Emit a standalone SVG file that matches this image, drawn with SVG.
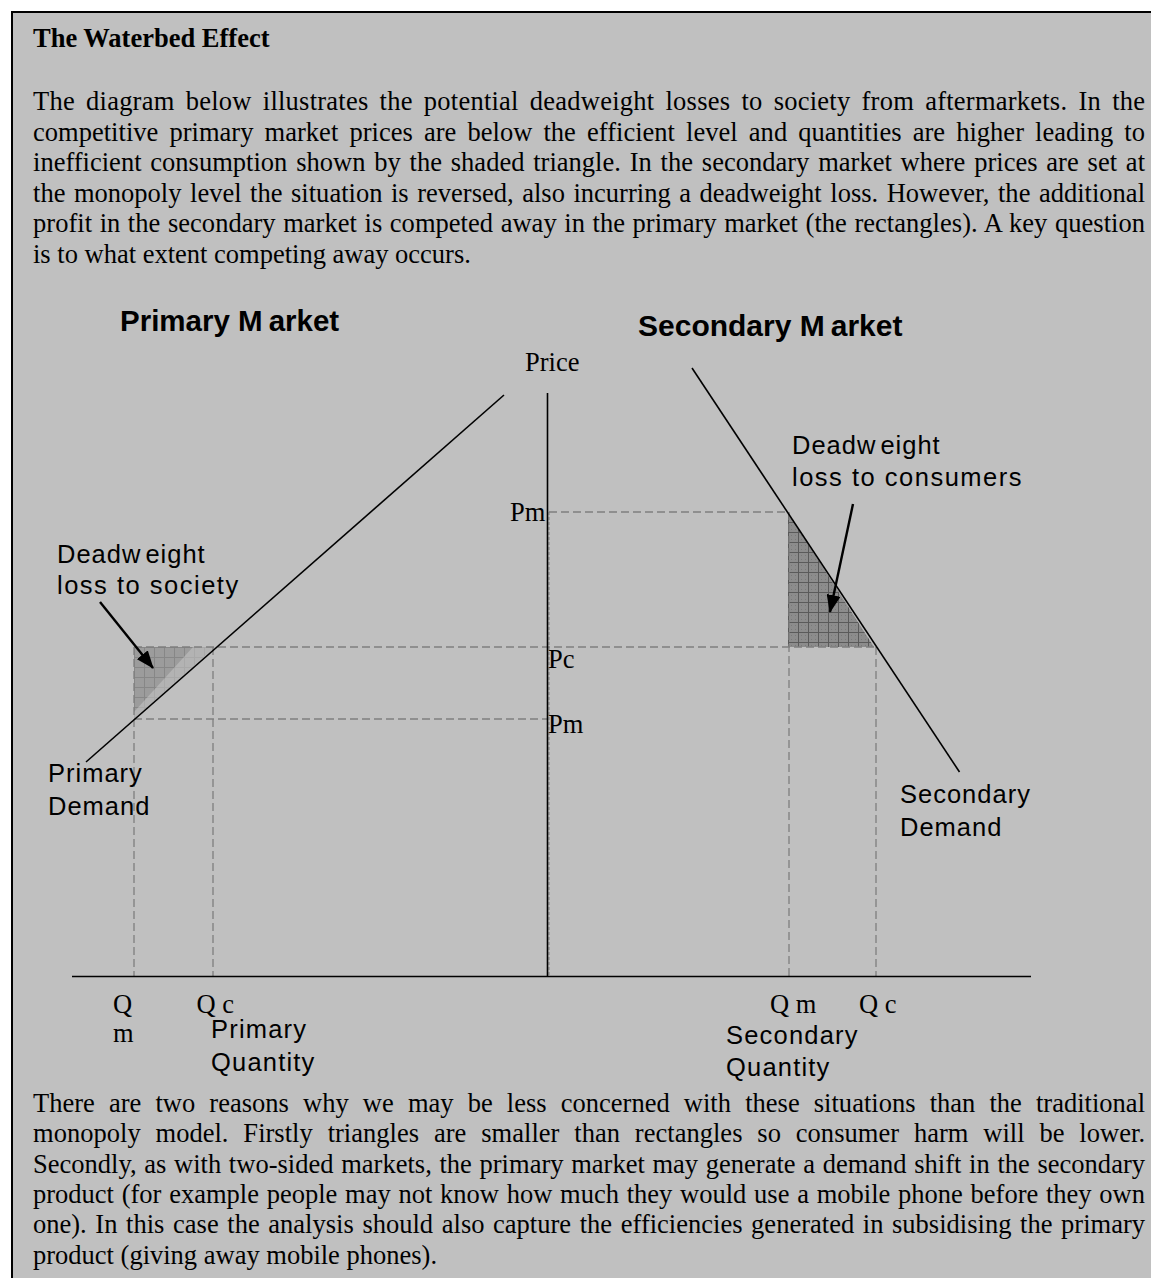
<svg xmlns="http://www.w3.org/2000/svg" width="1151" height="1278" viewBox="0 0 1151 1278">
<defs>
<style>
.serif{font-family:"Liberation Serif","Times New Roman",serif;font-size:26.5px;fill:#000}
.bold{font-weight:bold}
.sans{font-family:"Liberation Sans",Arial,sans-serif;font-size:25.5px;fill:#000;letter-spacing:1px}
.head{font-family:"Liberation Sans",Arial,sans-serif;font-size:29.5px;font-weight:bold;fill:#000}
.dash{stroke:#7f7f7f;stroke-width:1.3;stroke-dasharray:8 4;fill:none}
.axis{stroke:#000;stroke-width:1.6;fill:none}
.curve{stroke:#000;stroke-width:1.6;fill:none}
.arrow{stroke:#000;stroke-width:2.4;fill:none}
</style>
<pattern id="gridDark" width="10" height="10" patternUnits="userSpaceOnUse" x="788" y="512">
<rect width="10" height="10" fill="#8c8c8c"/>
<path d="M3,3h1v1h-1zM7,7h1v1h-1zM3,7h1v1h-1zM7,3h1v1h-1z" fill="#7a7a7a"/>
<path d="M0,0.5H10M0.5,0V10" stroke="#5a5a5a" stroke-width="1"/>
</pattern>
<pattern id="gridMid" width="10" height="10" patternUnits="userSpaceOnUse" x="134" y="647">
<rect width="10" height="10" fill="#9c9c9c"/>
<path d="M0,0.5H10M0.5,0V10" stroke="#878787" stroke-width="1"/>
</pattern>
<pattern id="gridLight" width="10" height="10" patternUnits="userSpaceOnUse" x="134" y="647">
<rect width="10" height="10" fill="#b3b3b3"/>
<path d="M0,0.5H10M0.5,0V10" stroke="#a9a9a9" stroke-width="1"/>
</pattern>
<marker id="ah" markerUnits="userSpaceOnUse" markerWidth="18" markerHeight="14" refX="17" refY="7" orient="auto" viewBox="0 0 18 14">
<path d="M0,0 L18,7 L0,14 z" fill="#000"/>
</marker>
</defs>

<rect width="1151" height="1278" fill="#fff"/>
<rect x="12" y="12" width="1170" height="1300" fill="#c0c0c0" stroke="#000" stroke-width="2"/>

<g id="intro-text">
<text class="serif bold" x="33" y="47">The Waterbed Effect</text>
<text class="serif" x="33" y="110" textLength="1112" lengthAdjust="spacing" style="word-spacing:4.3px">The diagram below illustrates the potential deadweight losses to society from aftermarkets.  In the</text>
<text class="serif" x="33" y="140.5" textLength="1112" lengthAdjust="spacing" style="word-spacing:4.5px">competitive primary market prices are below the efficient level and quantities are higher leading to</text>
<text class="serif" x="33" y="171" textLength="1112" lengthAdjust="spacing" style="word-spacing:2.2px">inefficient consumption shown by the shaded triangle. In the secondary market where prices are set at</text>
<text class="serif" x="33" y="201.5" textLength="1112" lengthAdjust="spacing" style="word-spacing:1.9px">the monopoly level the situation is reversed, also incurring a deadweight loss. However, the additional</text>
<text class="serif" x="33" y="232" textLength="1112" lengthAdjust="spacing" style="word-spacing:0.9px">profit in the secondary market is competed away in the primary market (the rectangles). A key question</text>
<text class="serif" x="33" y="262.5">is to what extent competing away occurs.</text>
</g>

<g id="headings">
<text class="head" x="120" y="331">Primary M<tspan dx="6">arket</tspan></text>
<text class="head" x="638" y="336" style="font-size:30px">Secondary M<tspan dx="6">arket</tspan></text>
</g>

<g id="shading">
<polygon id="dwl-primary" points="134,647 215,647 134,719" fill="url(#gridLight)"/>
<polygon id="dwl-primary-dark" points="134,647 193,647 134,712" fill="url(#gridMid)"/>
<polygon id="dwl-secondary" points="788,513 788,647 874,647" fill="url(#gridDark)"/>
</g>

<g id="guides">
<line class="dash" x1="134" y1="647" x2="876" y2="647"/>
<line class="dash" x1="134" y1="719" x2="547" y2="719"/>
<line class="dash" x1="549" y1="512" x2="788" y2="512"/>
<line class="dash" x1="134" y1="647" x2="134" y2="976"/>
<line class="dash" x1="213" y1="647" x2="213" y2="976"/>
<line class="dash" x1="789" y1="512" x2="789" y2="976"/>
<line class="dash" x1="876" y1="647" x2="876" y2="976"/>
<line class="dash" x1="549" y1="512" x2="549" y2="976" style="stroke-dasharray:3 2;stroke-width:1"/>
</g>

<g id="axes">
<line class="axis" x1="547.5" y1="393" x2="547.5" y2="977"/>
<line class="axis" x1="72" y1="976.5" x2="1031" y2="976.5"/>
</g>

<g id="connectors">
<line id="primary-demand" class="curve" x1="86" y1="762" x2="504" y2="395"/>
<line id="secondary-demand" class="curve" x1="692" y1="368" x2="959.5" y2="772"/>
<line id="arrow-society" class="arrow" x1="100" y1="602" x2="153" y2="668" marker-end="url(#ah)"/>
<line id="arrow-consumers" class="arrow" x1="853" y1="504" x2="830" y2="612" marker-end="url(#ah)"/>
</g>

<g id="axis-labels">
<text class="serif" x="525" y="371">Price</text>
<text class="serif" x="510" y="521">Pm</text>
<text class="serif" x="548" y="668">Pc</text>
<text class="serif" x="548" y="733">Pm</text>
<text class="serif" x="113" y="1013">Q</text>
<text class="serif" x="113" y="1042">m</text>
<text class="serif" x="196.5" y="1013">Q c</text>
<text class="serif" x="770" y="1013">Q m</text>
<text class="serif" x="859" y="1013">Q c</text>
</g>

<g id="label-dwl-society">
<text class="sans" x="57" y="563">Deadw<tspan dx="4">eight</tspan></text>
<text class="sans" x="57" y="594" style="letter-spacing:1.5px">loss to society</text>
</g>
<g id="label-dwl-consumers">
<text class="sans" x="792" y="454">Deadw<tspan dx="4">eight</tspan></text>
<text class="sans" x="792" y="486" style="letter-spacing:1.5px">loss to consumers</text>
</g>
<g id="label-primary-demand">
<text class="sans" x="48" y="782">Primary</text>
<text class="sans" x="48" y="815">Demand</text>
</g>
<g id="label-secondary-demand">
<text class="sans" x="900" y="803">Secondary</text>
<text class="sans" x="900" y="836">Demand</text>
</g>
<g id="label-primary-quantity">
<text class="sans" x="211" y="1038" style="letter-spacing:1.2px">Primary</text>
<text class="sans" x="211" y="1071" style="letter-spacing:1.2px">Quantity</text>
</g>
<g id="label-secondary-quantity">
<text class="sans" x="726" y="1044" style="letter-spacing:1.2px">Secondary</text>
<text class="sans" x="726" y="1076" style="letter-spacing:1.2px">Quantity</text>
</g>

<g id="closing-text">
<text class="serif" x="33" y="1112" textLength="1112" lengthAdjust="spacing" style="word-spacing:7.5px">There are two reasons why we may be less concerned with these situations than the traditional</text>
<text class="serif" x="33" y="1142.3" textLength="1112" lengthAdjust="spacing" style="word-spacing:8.2px">monopoly model. Firstly triangles are smaller than rectangles so consumer harm will be lower.</text>
<text class="serif" x="33" y="1172.6" textLength="1112" lengthAdjust="spacing" style="word-spacing:1px">Secondly, as with two-sided markets, the primary market may generate a demand shift in the secondary</text>
<text class="serif" x="33" y="1202.9" textLength="1112" lengthAdjust="spacing" style="word-spacing:1.1px">product (for example people may not know how much they would use a mobile phone before they own</text>
<text class="serif" x="33" y="1233.2" textLength="1112" lengthAdjust="spacing" style="word-spacing:2px">one). In this case the analysis should also capture the efficiencies generated in subsidising the primary</text>
<text class="serif" x="33" y="1263.5">product (giving away mobile phones).</text>
</g>
</svg>
